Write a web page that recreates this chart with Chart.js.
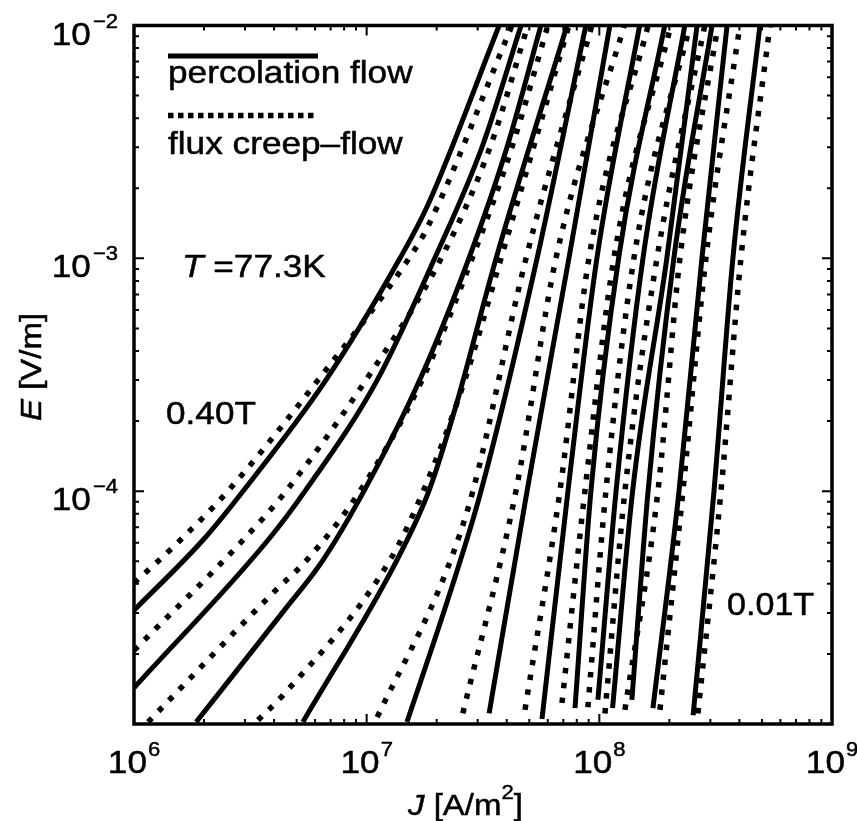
<!DOCTYPE html>
<html><head><meta charset="utf-8">
<script src="https://cdn.jsdelivr.net/npm/chart.js@4"></script>
<style>html,body{margin:0;padding:0;background:#fff}canvas{display:block}</style>
</head><body>
<canvas id="c" width="857" height="821"></canvas>
<script>
// ---- data (J in A/m^2, E in V/m), 13 field values from 0.40T (left) to 0.01T (right)
const curveNames = ['0.40T','B2','B3','B4','B5','B6','B7','B8','B9','B10','B11','B12','0.01T'];

// percolation flow (solid)
const percJ = [
  [1.00e6, 1.98e6, 2.94e6, 6.68e6, 1.39e7, 1.83e7, 3.71e7],
  [1.00e6, 3.77e6, 5.43e6, 1.11e7, 1.96e7, 3.13e7, 4.61e7],
  [1.85e6, 4.37e6, 6.49e6, 9.73e6, 1.69e7, 2.75e7, 4.01e7, 5.61e7],
  [5.32e6, 1.35e7, 1.85e7, 2.39e7, 3.60e7, 7.26e7],
  [1.49e7, 2.28e7, 3.10e7, 5.40e7, 8.75e7],
  [3.36e7, 4.89e7, 7.40e7, 1.11e8],
  [5.67e7, 7.33e7, 9.76e7, 1.49e8],
  [7.86e7, 9.20e7, 1.21e8, 1.91e8],
  [9.86e7, 1.18e8, 1.54e8, 2.33e8],
  [1.14e8, 1.39e8, 1.95e8, 2.63e8],
  [1.38e8, 1.62e8, 2.09e8, 3.05e8],
  [1.70e8, 2.20e8, 2.76e8, 3.54e8],
  [2.53e8, 3.11e8, 3.75e8, 4.90e8]
];
const percE = [
  [3.08e-5, 6.17e-5, 1e-4, 3e-4, 1e-3, 1.69e-3, 1e-2],
  [1.43e-5, 6.17e-5, 1e-4, 3e-4, 1e-3, 3e-3, 1e-2],
  [1.02e-5, 3.03e-5, 5.06e-5, 1e-4, 3e-4, 1e-3, 3e-3, 1e-2],
  [1.02e-5, 5.06e-5, 1e-4, 2.23e-4, 1e-3, 1e-2],
  [1.02e-5, 3.65e-5, 1e-4, 1e-3, 1e-2],
  [1.11e-5, 1e-4, 1e-3, 1e-2],
  [1.05e-5, 1e-4, 1e-3, 1e-2],
  [1.17e-5, 1e-4, 1e-3, 1e-2],
  [1.27e-5, 1e-4, 1e-3, 1e-2],
  [1.17e-5, 1e-4, 1e-3, 1e-2],
  [1.27e-5, 1e-4, 1e-3, 1e-2],
  [1.17e-5, 1e-4, 1e-3, 1e-2],
  [1.09e-5, 1e-4, 1e-3, 1e-2]
];

// flux creep-flow (dotted)
const creepJ = [
  [1.00e6, 1.55e6, 2.53e6, 6.18e6, 1.52e7, 1.82e7, 4.21e7],
  [1.00e6, 2.86e6, 4.50e6, 9.93e6, 2.09e7, 3.39e7, 4.93e7],
  [1.15e6, 4.07e6, 5.53e6, 9.35e6, 1.73e7, 2.84e7, 4.21e7, 6.01e7],
  [3.41e6, 4.37e6, 1.26e7, 1.75e7, 2.64e7, 3.78e7, 7.40e7],
  [1.11e7, 2.21e7, 2.86e7, 4.84e7, 9.29e7],
  [2.59e7, 4.38e7, 6.51e7, 1.28e8],
  [4.79e7, 6.77e7, 9.02e7, 1.62e8],
  [6.91e7, 8.67e7, 1.155e8, 2.03e8],
  [8.93e7, 1.067e8, 1.408e8, 2.45e8],
  [1.057e8, 1.288e8, 1.769e8, 2.84e8],
  [1.288e8, 1.786e8, 2.22e8, 3.235e8],
  [1.822e8, 2.287e8, 2.871e8, 4.02e8],
  [2.653e8, 3.333e8, 4.06e8, 5.41e8]
];
const creepE = [
  [4.03e-5, 6.04e-5, 1e-4, 3e-4, 1e-3, 1.35e-3, 1e-2],
  [2.07e-5, 5.98e-5, 1e-4, 3e-4, 1e-3, 3e-3, 1e-2],
  [1.02e-5, 3.76e-5, 5.06e-5, 1e-4, 3e-4, 1e-3, 3e-3, 1e-2],
  [1.04e-5, 1.33e-5, 5.06e-5, 1e-4, 3e-4, 1e-3, 1e-2],
  [1.07e-5, 4.58e-5, 1e-4, 1e-3, 1e-2],
  [1.11e-5, 1e-4, 1e-3, 1e-2],
  [1.15e-5, 1e-4, 1e-3, 1e-2],
  [1.23e-5, 1e-4, 1e-3, 1e-2],
  [1.18e-5, 1e-4, 1e-3, 1e-2],
  [1.11e-5, 1e-4, 1e-3, 1e-2],
  [1.15e-5, 1e-4, 1e-3, 1e-2],
  [1.15e-5, 1e-4, 1e-3, 1e-2],
  [1.11e-5, 1e-4, 1e-3, 1e-2]
];

// axes
const xMin = 1e6, xMax = 1e9, yMin = 1e-5, yMax = 1e-2;
const xTickExps = [6, 7, 8, 9];
const yTickExps = [-4, -3, -2];
const legendLabels = ['percolation flow', 'flux creep\u2013flow'];
const tempLabel = '=77.3K';
const fieldHigh = '0.40T', fieldLow = '0.01T';

// ---- styles
const SOLID_W = 5, DOT_W = 5.5, DOT_DASH = [5.5, 9.5], LEG_DASH = [5.5, 4.5];
const FONT = '"Liberation Sans", Arial, Helvetica, sans-serif';
const SX = 1.1;

function pts(J, E) { return J.map((j, i) => ({ x: j, y: E[i] })); }
const datasets = [];
for (let i = 0; i < percJ.length; i++) {
  datasets.push({ label: 'percolation ' + curveNames[i], data: pts(percJ[i], percE[i]),
    showLine: true, borderColor: '#000', borderWidth: SOLID_W, pointRadius: 0,
    cubicInterpolationMode: 'monotone', fill: false, clip: 0, borderCapStyle: 'butt' });
  datasets.push({ label: 'creep ' + curveNames[i], data: pts(creepJ[i], creepE[i]),
    showLine: true, borderColor: '#000', borderWidth: DOT_W, borderDash: DOT_DASH, pointRadius: 0,
    cubicInterpolationMode: 'monotone', fill: false, clip: 0, borderCapStyle: 'butt' });
}

function runsWidth(ctx, runs) {
  let w = 0;
  for (const r of runs) { ctx.font = (r.italic ? 'italic ' : '') + r.size + 'px ' + FONT; w += ctx.measureText(r.t).width * SX + (r.gap || 0); }
  return w;
}
function drawRuns(ctx, runs, x, y, align) {
  const w = runsWidth(ctx, runs);
  let cx = align === 'center' ? x - w / 2 : align === 'right' ? x - w : x;
  ctx.fillStyle = '#000'; ctx.strokeStyle = '#000'; ctx.lineWidth = 0.5; ctx.setLineDash([]);
  ctx.textBaseline = 'alphabetic'; ctx.textAlign = 'left';
  for (const r of runs) {
    ctx.font = (r.italic ? 'italic ' : '') + r.size + 'px ' + FONT;
    cx += (r.gap || 0);
    ctx.save(); ctx.translate(cx, y + (r.dy || 0)); ctx.scale(SX, 1);
    ctx.fillText(r.t, 0, 0); ctx.strokeText(r.t, 0, 0); ctx.restore();
    cx += ctx.measureText(r.t).width * SX;
  }
}
const sup = s => s.replace('-', '\u2212');

const decor = {
  id: 'decor',
  afterDatasetsDraw(chart) {
    const { ctx, chartArea: a, scales: { x, y } } = chart;
    ctx.save();
    // ticks (inward, all sides)
    ctx.strokeStyle = '#000'; ctx.lineWidth = 2; ctx.setLineDash([]);
    ctx.beginPath();
    for (let e = 6; e <= 9; e++) for (let m = 1; m <= 9; m++) {
      const v = m * Math.pow(10, e); if (v > xMax) break;
      const px = x.getPixelForValue(v), L = m === 1 ? 10 : 5;
      ctx.moveTo(px, a.bottom); ctx.lineTo(px, a.bottom - L);
      ctx.moveTo(px, a.top); ctx.lineTo(px, a.top + L);
    }
    for (let e = -5; e <= -2; e++) for (let m = 1; m <= 9; m++) {
      const v = m * Math.pow(10, e); if (v > yMax * 1.0001) break;
      const py = y.getPixelForValue(v), L = m === 1 ? 10 : 5;
      ctx.moveTo(a.left, py); ctx.lineTo(a.left + L, py);
      ctx.moveTo(a.right, py); ctx.lineTo(a.right - L, py);
    }
    ctx.stroke();
    // frame
    ctx.lineWidth = 3.5;
    ctx.strokeRect(a.left, a.top, a.right - a.left, a.bottom - a.top);
    // tick labels
    for (const e of xTickExps) {
      drawRuns(ctx, [{ t: '10', size: 32 }, { t: String(e), size: 20, dy: -17, gap: 1 }], x.getPixelForValue(Math.pow(10, e)), 773, 'center');
    }
    for (const e of yTickExps) {
      drawRuns(ctx, [{ t: '10', size: 32 }, { t: sup(String(e)), size: 20, dy: -17, gap: 2 }], 118, y.getPixelForValue(Math.pow(10, e)) + 19, 'right');
    }
    // axis titles
    drawRuns(ctx, [{ t: 'J', size: 30, italic: true }, { t: ' [A/m', size: 30 }, { t: '2', size: 20, dy: -16 }, { t: ']', size: 30 }], 408, 815, 'left');
    ctx.save(); ctx.translate(41, 421); ctx.rotate(-Math.PI / 2);
    drawRuns(ctx, [{ t: 'E', size: 30, italic: true }, { t: ' [V/m]', size: 30 }], 0, 0, 'left');
    ctx.restore();
    // legend
    ctx.lineWidth = 5; ctx.lineCap = 'butt'; ctx.setLineDash([]);
    ctx.beginPath(); ctx.moveTo(168, 56); ctx.lineTo(318, 56); ctx.stroke();
    ctx.lineWidth = DOT_W; ctx.setLineDash(LEG_DASH);
    ctx.beginPath(); ctx.moveTo(168, 115.5); ctx.lineTo(315, 115.5); ctx.stroke();
    ctx.setLineDash([]);
    drawRuns(ctx, [{ t: legendLabels[0], size: 32 }], 168, 83, 'left');
    drawRuns(ctx, [{ t: legendLabels[1], size: 32 }], 168, 154, 'left');
    // annotations
    drawRuns(ctx, [{ t: 'T', size: 32, italic: true }, { t: ' ' + tempLabel, size: 32 }], 182, 277, 'left');
    drawRuns(ctx, [{ t: fieldHigh, size: 32 }], 166, 424, 'left');
    drawRuns(ctx, [{ t: fieldLow, size: 31 }], 727, 615, 'left');
    ctx.restore();
  }
};

new Chart(document.getElementById('c').getContext('2d'), {
  type: 'scatter',
  data: { datasets },
  options: {
    responsive: false, animation: false, devicePixelRatio: 1,
    layout: { padding: { left: 134, right: 25, top: 25.5, bottom: 97 } },
    scales: {
      x: { type: 'logarithmic', min: xMin, max: xMax, display: false },
      y: { type: 'logarithmic', min: yMin, max: yMax, display: false }
    },
    plugins: { legend: { display: false }, tooltip: { enabled: false } },
    elements: { point: { radius: 0 } }
  },
  plugins: [decor]
});
</script>
</body></html>
